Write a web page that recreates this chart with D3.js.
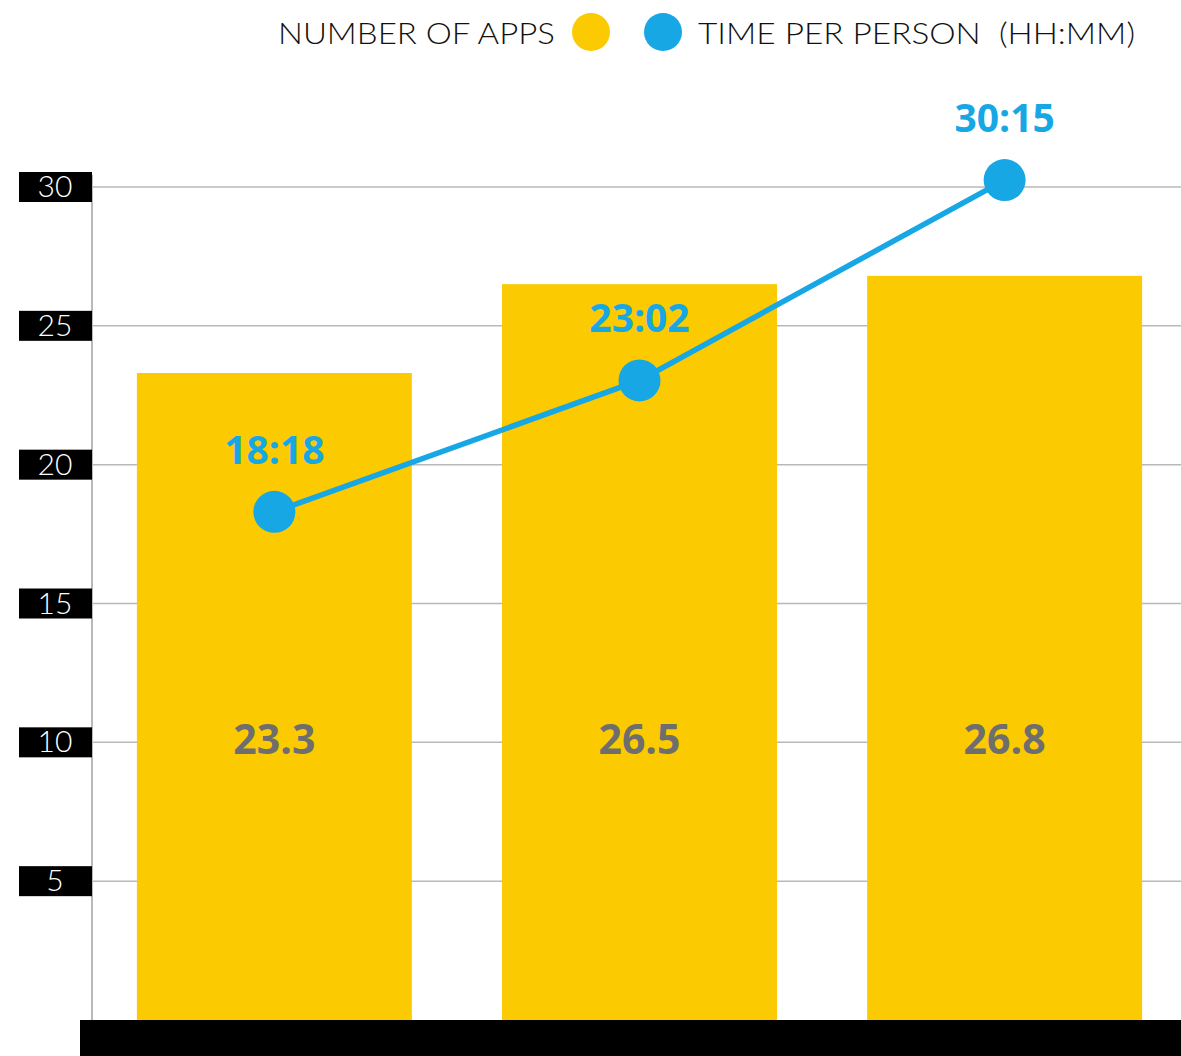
<!DOCTYPE html>
<html><head><meta charset="utf-8">
<script src="https://cdn.jsdelivr.net/npm/d3@7"></script>
<style>html,body{margin:0;padding:0;background:#fff;}svg{display:block;}</style>
</head><body>
<svg id="chart" width="1181" height="1056"></svg>
<script>
const categories = ["A", "B", "C"];
const appCounts = [23.3, 26.5, 26.8];
const timeLabels = ["18:18", "23:02", "30:15"];
const timeValues = [18.3, 23.033, 30.25];
const yTicks = [5, 10, 15, 20, 25, 30];
const legendLabels = ["NUMBER OF APPS", "TIME PER PERSON  (HH:MM)"];

const YELLOW = "#fbca00", BLUE = "#16a7e4", GREY = "#6e6e6e";
const svg = d3.select("#chart");

const x = d3.scaleBand().domain(categories).range([92, 1187]).paddingInner(0.247).paddingOuter(0.123);
const y = d3.scaleLinear().domain([0, 30]).range([1020, 187]);

// gridlines
svg.append("g").selectAll("line").data(yTicks).join("line")
  .attr("x1", 92).attr("x2", 1181)
  .attr("y1", d => y(d)).attr("y2", d => y(d))
  .attr("stroke", "#b9b9b9").attr("stroke-width", 1.5);

// vertical axis line
svg.append("line").attr("x1", 92).attr("x2", 92).attr("y1", y(30) - 12).attr("y2", y(0))
  .attr("stroke", "#b9b9b9").attr("stroke-width", 2);

// tick label boxes
const tk = svg.append("g").selectAll("g").data(yTicks).join("g")
  .attr("transform", d => `translate(0,${y(d)})`);
tk.append("rect").attr("x", 19).attr("y", -15).attr("width", 73).attr("height", 30).attr("fill", "#000");
tk.append("text").attr("x", 55).attr("y", 10).attr("text-anchor", "middle")
  .attr("fill", "#fff").attr("font-family", "Lato, sans-serif").attr("font-weight", 300).attr("font-size", 30)
  .text(d => d);

// bars
svg.append("g").selectAll("rect").data(appCounts).join("rect")
  .attr("x", (d, i) => x(categories[i])).attr("width", x.bandwidth())
  .attr("y", d => y(d)).attr("height", d => y(0) - y(d))
  .attr("fill", YELLOW);

// bar value labels
svg.append("g").selectAll("text").data(appCounts).join("text")
  .attr("x", (d, i) => x(categories[i]) + x.bandwidth() / 2)
  .attr("y", y(10) + 12).attr("text-anchor", "middle")
  .attr("fill", GREY).attr("font-family", "'Open Sans', sans-serif").attr("font-weight", 700)
  .attr("font-size", 41).text(d => d.toFixed(1));

// baseline black bar
svg.append("rect").attr("x", 80).attr("y", y(0)).attr("width", 1101).attr("height", 1056 - y(0)).attr("fill", "#000");

// line
const cx = (d, i) => x(categories[i]) + x.bandwidth() / 2;
const line = d3.line().x((d, i) => cx(d, i)).y(d => y(d));
svg.append("path").datum(timeValues).attr("d", line)
  .attr("fill", "none").attr("stroke", BLUE).attr("stroke-width", 5.5);
svg.append("g").selectAll("circle").data(timeValues).join("circle")
  .attr("cx", cx).attr("cy", d => y(d)).attr("r", 21).attr("fill", BLUE);
svg.append("g").selectAll("text").data(timeValues).join("text")
  .attr("x", cx).attr("y", d => y(d) - 48).attr("text-anchor", "middle")
  .attr("fill", BLUE).attr("font-family", "'Open Sans', sans-serif").attr("font-weight", 700)
  .attr("font-size", 39).text((d, i) => timeLabels[i]);

// legend
const lg = svg.append("g").attr("font-family", "Lato, sans-serif").attr("font-weight", 300)
  .attr("font-size", 29).attr("fill", "#111");
lg.append("text").attr("x", 278).attr("y", 44)
  .attr("textLength", 277).attr("lengthAdjust", "spacingAndGlyphs").text(legendLabels[0]);
lg.append("ellipse").attr("cx", 591).attr("cy", 32).attr("rx", 19).attr("ry", 19).attr("fill", YELLOW);
lg.append("ellipse").attr("cx", 663).attr("cy", 32).attr("rx", 19).attr("ry", 19).attr("fill", BLUE);
lg.append("text").attr("x", 698).attr("y", 44)
  .attr("textLength", 437).attr("lengthAdjust", "spacingAndGlyphs")
  .attr("xml:space", "preserve").text(legendLabels[1]);
</script>
</body></html>
